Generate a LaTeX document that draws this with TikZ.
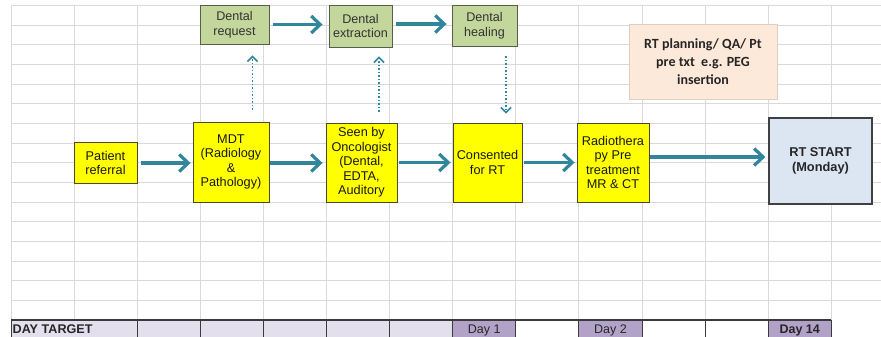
\documentclass[tikz,border=0pt]{standalone}
\usepackage{fontspec}
\setmainfont{Liberation Sans}
\newfontfamily\calfont{Carlito}
\usetikzlibrary{arrows.meta}
\definecolor{gridc}{HTML}{D9D9D9}
\definecolor{yel}{HTML}{FFFF00}
\definecolor{yelline}{HTML}{4A4A2A}
\definecolor{grn}{HTML}{C3D69B}
\definecolor{grnline}{HTML}{55604A}
\definecolor{teal}{HTML}{31859C}
\definecolor{lav}{HTML}{E4DFEC}
\definecolor{dayc}{HTML}{B3A2C7}
\definecolor{rtfill}{HTML}{DCE6F2}
\definecolor{rtline}{HTML}{404040}
\definecolor{peach}{HTML}{FDE9D9}
\definecolor{peachline}{HTML}{E2CDBF}
\definecolor{darkc}{HTML}{3A3A3A}
\begin{document}
\begin{tikzpicture}[x=1pt,y=-1pt,
  box/.style={draw=yelline, line width=0.9pt, fill=yel, align=center, inner sep=0pt, text=black!90,
    font=\fontsize{12.7}{14.4}\selectfont},
  gbox/.style={draw=grnline, line width=0.9pt, fill=grn, align=center, inner sep=0pt, text=black!80,
    font=\fontsize{12.6}{14.8}\selectfont},
  flow/.style={draw=teal, line width=3.6pt, -{Straight Barb[length=9pt,width=17pt,line width=3.2pt]}},
  dflow/.style={draw=teal, line width=1.5pt, dotted, -{Straight Barb[length=5pt,width=10pt,line width=1.5pt]}},
  daytxt/.style={anchor=base, font=\fontsize{12.5}{14}\selectfont, text=black!85, inner sep=0pt},
]
\useasboundingbox (0,0) rectangle (881,337);
\fill[white] (0,0) rectangle (881,337);
% grid
\foreach \k in {0,...,15} \draw[gridc, line width=0.9pt] (11,{5.5+19.65*\k}) -- (881,{5.5+19.65*\k});
\foreach \k in {0,...,13} \draw[gridc, line width=0.9pt] ({11+63.1*\k},5.5) -- ({11+63.1*\k},320);
% bottom row
\fill[lav] (11,320) rectangle (452.7,340);
\fill[dayc] (452.7,320) rectangle (515.8,340);
\fill[dayc] (578.9,320) rectangle (642,340);
\fill[dayc] (768.2,320) rectangle (831.3,340);
\foreach \xx in {11,137.2,200.3,263.4,326.5,389.6,452.7,515.8,578.9,642,705.1,768.2,831.3}
  \draw[darkc, line width=0.9pt] (\xx,320) -- (\xx,340);
\draw[darkc, line width=1.2pt] (11,320) -- (831.3,320);
\node[anchor=base west, font=\bfseries\fontsize{12.6}{14}\selectfont, text=black!85, inner sep=0pt] (dt) at (12.5,333) {DAY TARGET};
\node[daytxt] (d1) at (484.2,333) {Day 1};
\node[daytxt] (d2) at (610.4,333) {Day 2};
\node[daytxt, font=\bfseries\fontsize{12.5}{14}\selectfont] (d14) at (799.7,333) {Day 14};
% main boxes
\node[box, minimum width=63pt, minimum height=41pt] (pat) at (105.5,163) {Patient\\referral};
\node[box, minimum width=76pt, minimum height=80pt] (mdt) at (231,162) {MDT\\(Radiology\\\&\\Pathology)};
\node[box, minimum width=71pt, minimum height=79pt] (seen) at (361.5,162.5) {Seen by\\Oncologist\\(Dental,\\EDTA,\\Auditory};
\node[box, minimum width=69pt, minimum height=79pt] (cons) at (487.5,162.5) {Consented\\for RT};
\node[box, minimum width=72pt, minimum height=79pt] (radio) at (613,162.5) {Radiothera\\py Pre\\treatment\\MR \& CT};
\node[draw=rtline, line width=1.2pt, fill=rtfill, minimum width=103pt, minimum height=86pt, align=center, inner sep=0pt,
  font=\bfseries\fontsize{12.8}{15}\selectfont, text=black!85] (rt) at (820.5,161) {RT START\\(Monday)};
% dental boxes
\node[gbox, minimum width=69pt, minimum height=39pt] (dreq) at (234.5,24.5) {Dental\\request};
\node[gbox, minimum width=63pt, minimum height=42pt] (dext) at (360.5,26) {Dental\\extraction};
\node[gbox, minimum width=65pt, minimum height=41pt] (dheal) at (484.5,25.5) {Dental\\healing};
% planning box
\node[draw=peachline, line width=0.9pt, fill=peach, minimum width=148pt, minimum height=75pt, align=center, inner sep=0pt,
  font=\calfont\bfseries\fontsize{14}{18}\selectfont, text=black!85] (plan) at (703,61.5)
  {RT planning/ QA/ Pt\\pre txt\ \ e.g. PEG\\insertion};
% solid flow arrows
\draw[flow, shorten <=4pt, shorten >=2pt] (pat.east) -- (pat.east -| mdt.west);
\draw[flow, shorten <=1pt, shorten >=3pt] ([yshift=-1pt]mdt.east) -- ([yshift=-1pt]mdt.east -| seen.west);
\draw[flow, shorten <=2pt, shorten >=2pt] (seen.east) -- (seen.east -| cons.west);
\draw[flow, shorten <=2pt, shorten >=2pt] (cons.east) -- (cons.east -| radio.west);
\draw[flow, shorten <=1pt, shorten >=3pt] ([yshift=5.5pt]radio.east) -- ([yshift=5.5pt]radio.east -| rt.west);
\draw[flow, shorten <=4pt, shorten >=6pt] (dreq.east) -- (dreq.east -| dext.west);
\draw[flow, shorten <=4pt, shorten >=5pt] ([yshift=2pt]dext.east) -- ([yshift=2pt]dext.east -| dheal.west);
% dotted arrows
\draw[dflow, shorten <=12pt, shorten >=11pt] ([xshift=21.5pt]mdt.north) -- ([xshift=21.5pt]mdt.north |- dreq.south);
\draw[dflow, shorten <=11pt, shorten >=9pt] ([xshift=17.5pt]seen.north) -- ([xshift=17.5pt]seen.north |- dext.south);
\draw[dflow, shorten <=10pt, shorten >=9pt] ([xshift=21.5pt]dheal.south) -- ([xshift=21.5pt]dheal.south |- cons.north);
\end{tikzpicture}
\end{document}
